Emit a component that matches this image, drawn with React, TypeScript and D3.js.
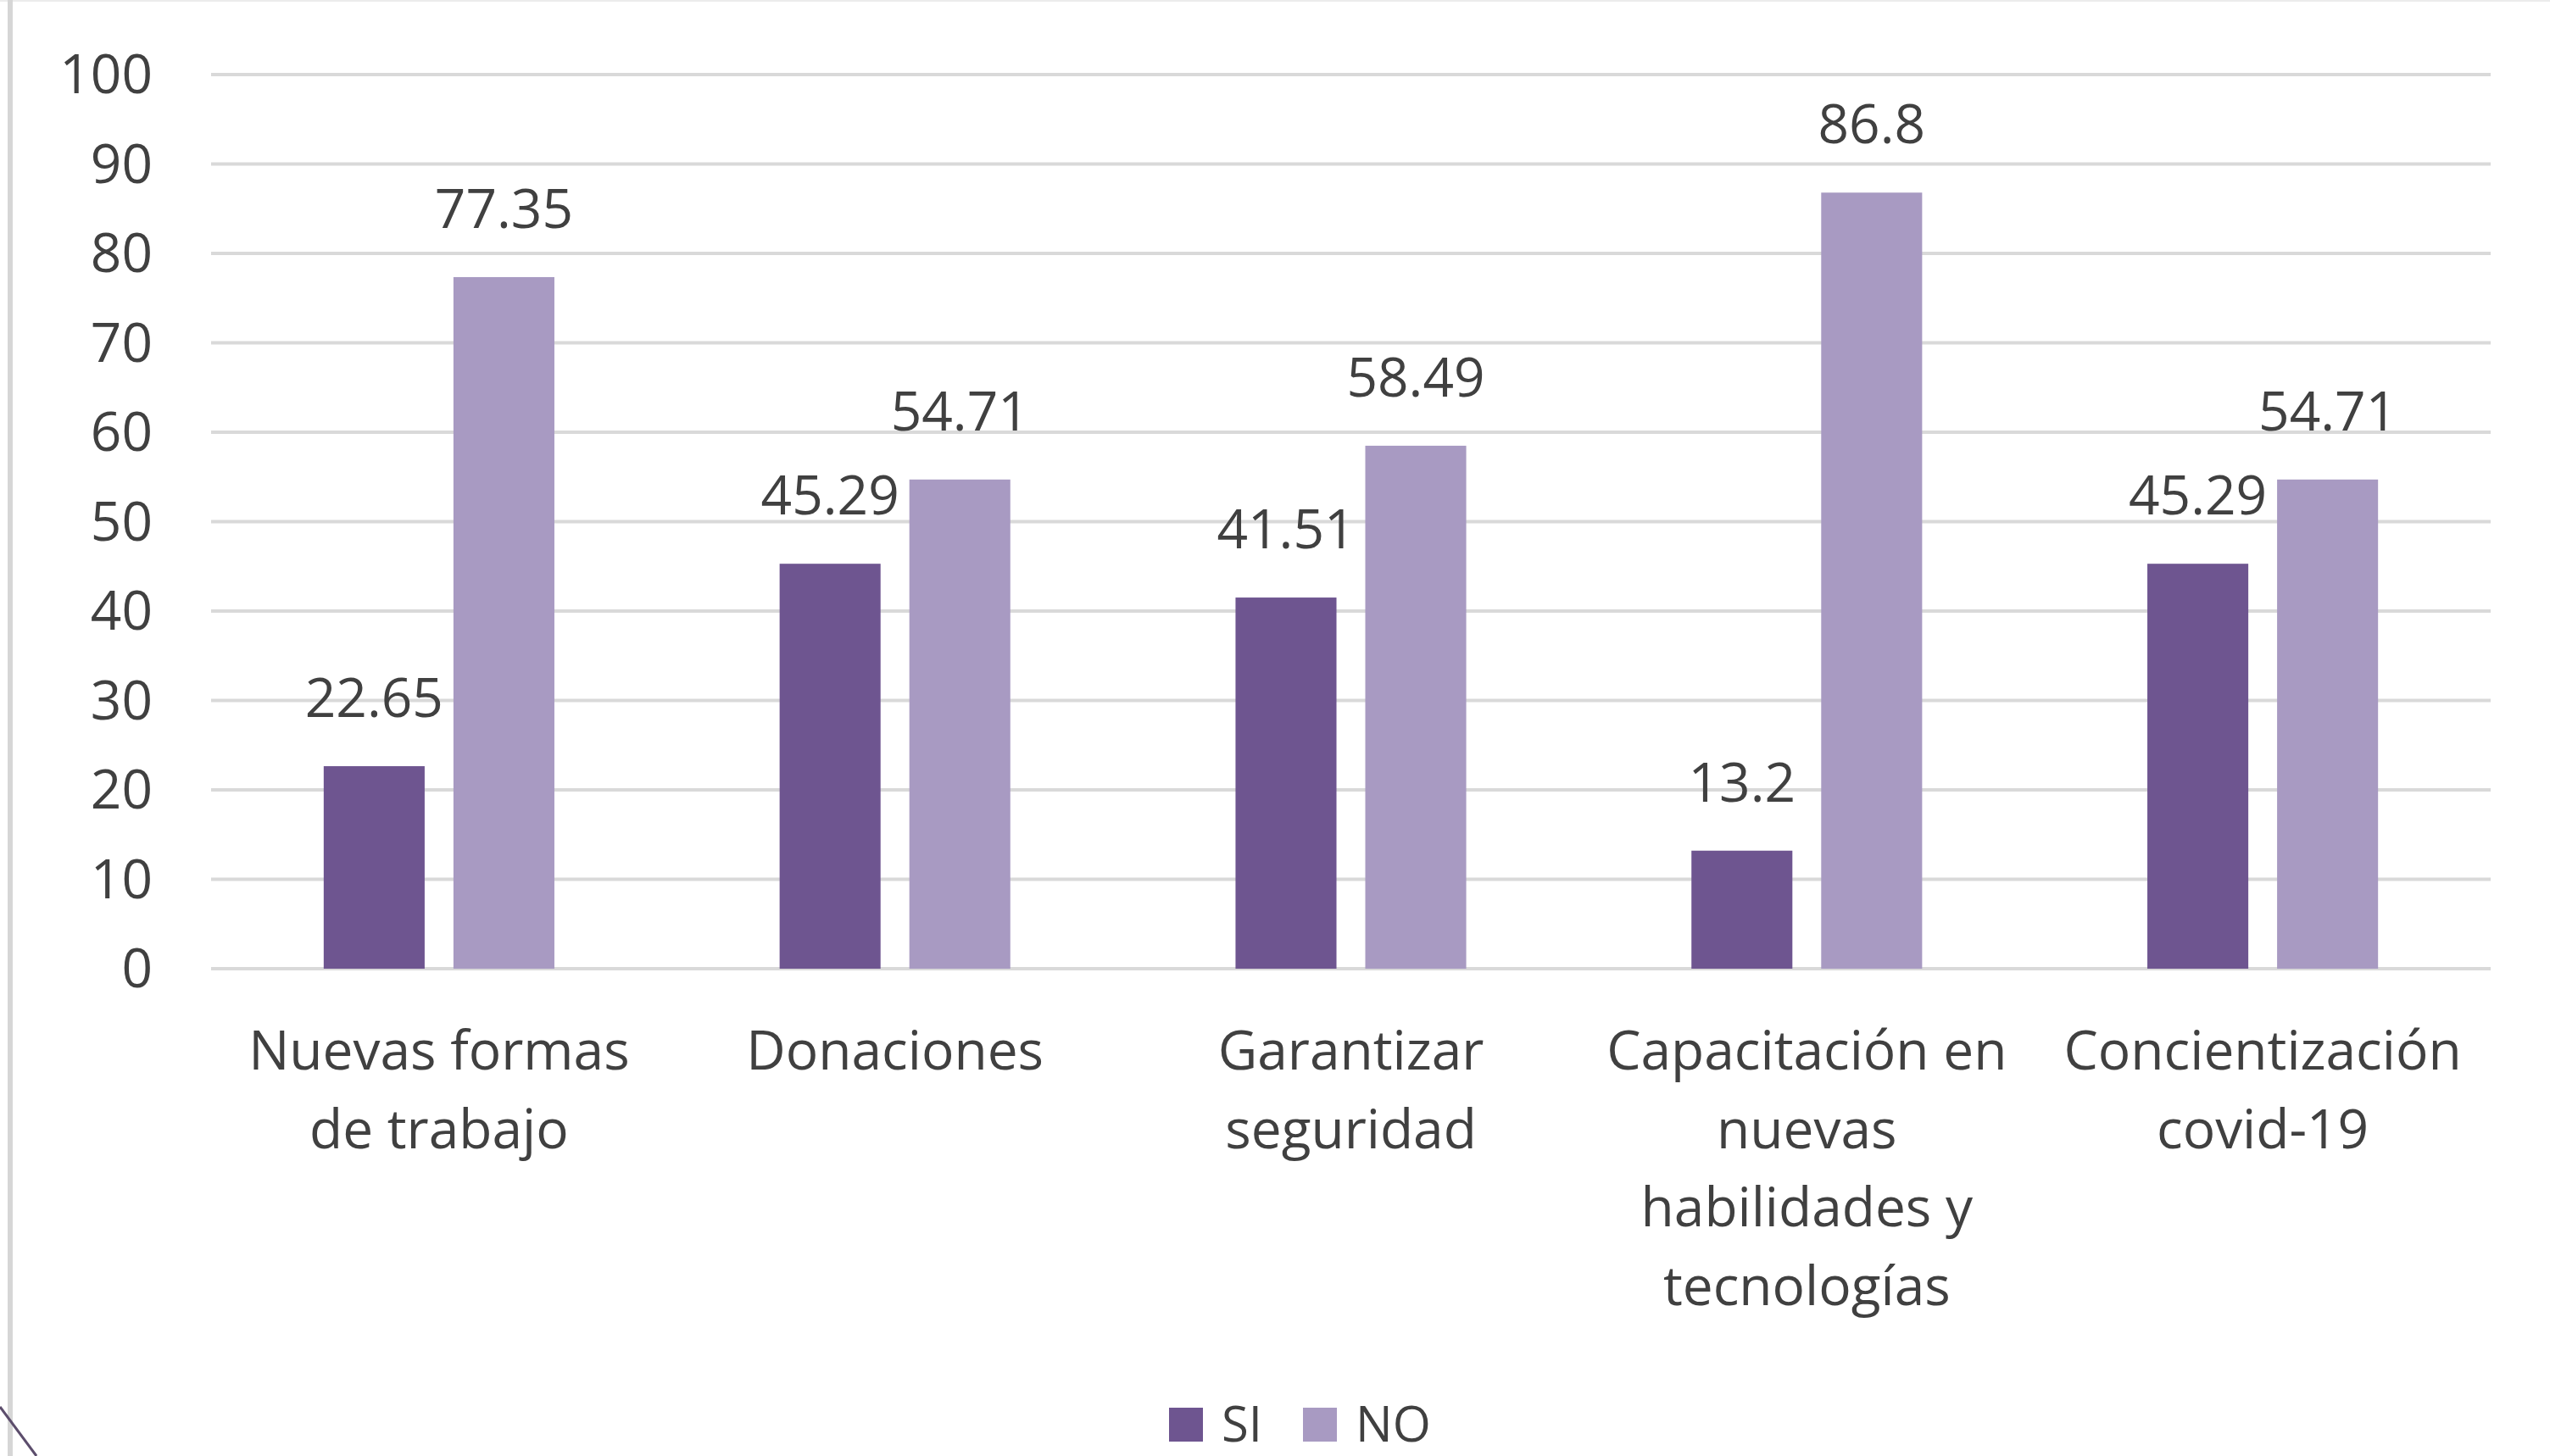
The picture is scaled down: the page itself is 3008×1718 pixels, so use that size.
import React from 'react';
import { scaleBand, scaleLinear, range } from 'd3';

// chart data
const categories = [
  'Nuevas formas de trabajo',
  'Donaciones',
  'Garantizar seguridad',
  'Capacitación en nuevas habilidades y tecnologías',
  'Concientización covid-19',
];
const categoryLines = [
  ['Nuevas formas', 'de trabajo'],
  ['Donaciones'],
  ['Garantizar', 'seguridad'],
  ['Capacitación en', 'nuevas', 'habilidades y', 'tecnologías'],
  ['Concientización', 'covid-19'],
];
const series = ['SI', 'NO'];
const siValues = [22.65, 45.29, 41.51, 13.2, 45.29];
const noValues = [77.35, 54.71, 58.49, 86.8, 54.71];
const yTicks = [0, 10, 20, 30, 40, 50, 60, 70, 80, 90, 100];

const colors = { SI: '#6e5590', NO: '#a89ac2' };

const W = 3008;
const H = 1718;
const FONT = '"Open Sans", "Noto Sans", sans-serif';
const TEXT = '#404040';

export default function App() {
  const x = scaleBand().domain(categories).range([249, 2938]).padding(0);
  const y = scaleLinear().domain([0, 100]).range([1143, 88]);

  // the two bars sit in the middle half of each band
  const groupW = x.bandwidth() * 0.506;
  const x1 = scaleBand().domain(series).range([0, groupW]).paddingInner(0.222).paddingOuter(0);

  const values = { SI: siValues, NO: noValues };

  return (
    <svg
      width={W}
      height={H}
      style={{ position: 'absolute', left: 0, top: 0, display: 'block', background: '#fff' }}
      fontFamily={FONT}
    >
      {/* frame remnants */}
      <line x1={0} x2={W} y1={1} y2={1} stroke="#ececec" strokeWidth={2} />
      <line x1={12} x2={12} y1={0} y2={H} stroke="#d6d6d6" strokeWidth={6} />
      <line x1={0} y1={1660} x2={43} y2={1718} stroke="#5c4d6c" strokeWidth={3} />

      {/* gridlines + y labels */}
      {yTicks.map(t => (
        <g key={t}>
          <line x1={249} x2={2938} y1={y(t)} y2={y(t)} stroke="#d9d9d9" strokeWidth={4} />
          <text x={180} y={y(t)} dy="0.35em" textAnchor="end" fontSize={64} fill={TEXT}>{t}</text>
        </g>
      ))}

      {/* bars and value labels */}
      {categories.map((c, i) => {
        const g0 = x(c)! + (x.bandwidth() - groupW) / 2;
        return (
          <g key={c}>
            {series.map(s => {
              const v = values[s][i];
              const bx = g0 + x1(s)!;
              return (
                <g key={s}>
                  <rect x={bx} y={y(v)} width={x1.bandwidth()} height={y(0) - y(v)} fill={colors[s]} />
                  <text x={bx + x1.bandwidth() / 2} y={y(v) - 58} textAnchor="middle" fontSize={64} fill={TEXT}>
                    {v}
                  </text>
                </g>
              );
            })}
          </g>
        );
      })}

      {/* category labels */}
      {categories.map((c, i) => (
        <text key={c} x={x(c)! + x.bandwidth() / 2} textAnchor="middle" fontSize={64} fill={TEXT}>
          {categoryLines[i].map((ln, j) => (
            <tspan key={j} x={x(c)! + x.bandwidth() / 2} y={1262 + j * 92.7}>{ln}</tspan>
          ))}
        </text>
      ))}

      {/* legend */}
      <g>
        {range(series.length).map(k => {
          const s = series[k];
          const lx = [1379, 1537][k];
          return (
            <g key={s}>
              <rect x={lx} y={1661} width={40} height={40} fill={colors[s]} />
              <text x={lx + 62} y={1701} fontSize={58} fill={TEXT}>{s}</text>
            </g>
          );
        })}
      </g>
    </svg>
  );
}
